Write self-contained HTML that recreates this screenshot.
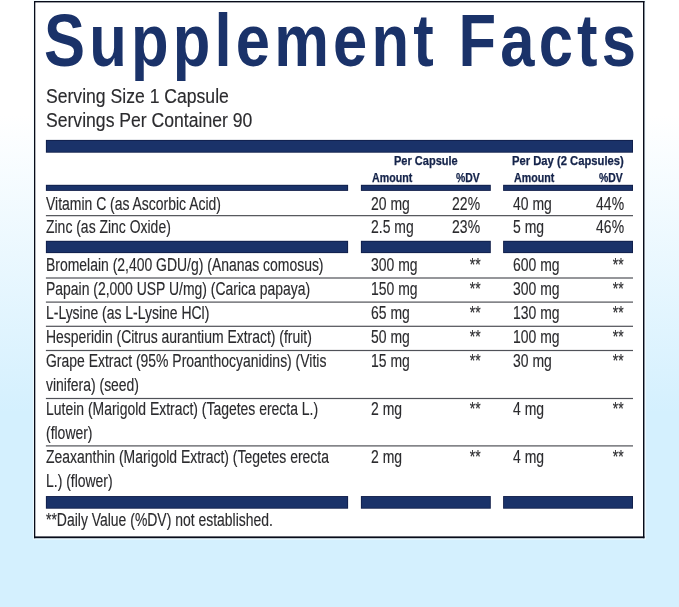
<!DOCTYPE html>
<html><head><meta charset="utf-8"><title>Supplement Facts</title>
<style>
html,body{margin:0;padding:0;}
body{width:679px;height:607px;position:relative;overflow:hidden;background:linear-gradient(to bottom,#ffffff 0%,#ffffff 19%,#d4f0fe 68%,#d4f0fe 100%);font-family:"Liberation Sans",Arial,Helvetica,sans-serif;}
span{position:absolute;white-space:nowrap;line-height:normal;color:#2b2b2e;}
span.title{font-weight:bold;color:#1a3269;}
span.h{font-weight:bold;color:#14234a;-webkit-text-stroke:0.25px #14234a;}
span.r{-webkit-text-stroke:0.15px #2b2b2e;}
svg.g{position:absolute;left:0;top:0;}
</style></head><body>
<svg class="g" width="679" height="607" viewBox="0 0 679 607">
<rect x="32.9" y="0" width="613.2" height="539.7" fill="#f2fcff" fill-opacity="0.75"/>
<rect x="34.4" y="1.4" width="609.6" height="536" fill="#ffffff"/>
<rect x="34" y="1" width="1.3" height="537.2" fill="#070b19"/>
<rect x="643" y="1" width="1.45" height="537.2" fill="#070b19"/>
<rect x="34" y="1" width="610.45" height="1.4" fill="#070b19"/>
<rect x="34" y="536.4" width="610.45" height="1.8" fill="#070b19"/>
<rect x="45.90" y="139.90" width="587.10" height="12.80" fill="#111f4a"/>
<rect x="46.80" y="140.80" width="585.30" height="11.00" fill="#1a3269"/>
<rect x="45.90" y="184.80" width="302.20" height="6.10" fill="#111f4a"/>
<rect x="46.80" y="185.70" width="300.40" height="4.30" fill="#1a3269"/>
<rect x="360.90" y="184.80" width="129.90" height="6.10" fill="#111f4a"/>
<rect x="361.80" y="185.70" width="128.10" height="4.30" fill="#1a3269"/>
<rect x="503.10" y="184.80" width="129.90" height="6.10" fill="#111f4a"/>
<rect x="504.00" y="185.70" width="128.10" height="4.30" fill="#1a3269"/>
<rect x="45.90" y="240.80" width="302.20" height="12.30" fill="#111f4a"/>
<rect x="46.80" y="241.70" width="300.40" height="10.50" fill="#1a3269"/>
<rect x="360.90" y="240.80" width="129.90" height="12.30" fill="#111f4a"/>
<rect x="361.80" y="241.70" width="128.10" height="10.50" fill="#1a3269"/>
<rect x="503.10" y="240.80" width="129.90" height="12.30" fill="#111f4a"/>
<rect x="504.00" y="241.70" width="128.10" height="10.50" fill="#1a3269"/>
<rect x="45.90" y="496.05" width="302.20" height="12.65" fill="#111f4a"/>
<rect x="46.80" y="496.95" width="300.40" height="10.85" fill="#1a3269"/>
<rect x="360.90" y="496.05" width="129.90" height="12.65" fill="#111f4a"/>
<rect x="361.80" y="496.95" width="128.10" height="10.85" fill="#1a3269"/>
<rect x="503.10" y="496.05" width="129.90" height="12.65" fill="#111f4a"/>
<rect x="504.00" y="496.95" width="128.10" height="10.85" fill="#1a3269"/>
<rect x="45.90" y="215.05" width="587.10" height="1.20" fill="#505258"/>
<rect x="45.90" y="277.40" width="587.10" height="1.20" fill="#505258"/>
<rect x="45.90" y="301.50" width="587.10" height="1.20" fill="#505258"/>
<rect x="45.90" y="325.70" width="587.10" height="1.20" fill="#505258"/>
<rect x="45.90" y="349.90" width="587.10" height="1.20" fill="#505258"/>
<rect x="45.90" y="397.90" width="587.10" height="1.20" fill="#505258"/>
<rect x="45.90" y="445.30" width="587.10" height="1.20" fill="#505258"/>
</svg>
<span class="title" style="left:43.90px;top:-3.00px;font-size:75px;transform:scaleX(0.82);transform-origin:left top;letter-spacing:5.12px;word-spacing:-0.8px;">Supplement Facts</span>
<span class="r" style="left:46.00px;top:85.00px;font-size:19.5px;transform:scaleX(0.902);transform-origin:left top;">Serving Size 1 Capsule</span>
<span class="r" style="left:46.00px;top:109.00px;font-size:19.5px;transform:scaleX(0.902);transform-origin:left top;">Servings Per Container 90</span>
<span class="h" style="left:394.00px;top:154.00px;font-size:12.2px;transform:scaleX(0.905);transform-origin:left top;">Per Capsule</span>
<span class="h" style="left:512.40px;top:154.00px;font-size:12.2px;transform:scaleX(0.922);transform-origin:left top;">Per Day (2 Capsules)</span>
<span class="h" style="left:371.75px;top:171.00px;font-size:12.2px;transform:scaleX(0.873);transform-origin:left top;">Amount</span>
<span class="h" style="right:199.00px;top:171.00px;font-size:12.2px;transform:scaleX(0.855);transform-origin:right top;">%DV</span>
<span class="h" style="left:513.50px;top:171.00px;font-size:12.2px;transform:scaleX(0.873);transform-origin:left top;">Amount</span>
<span class="h" style="right:56.50px;top:171.00px;font-size:12.2px;transform:scaleX(0.855);transform-origin:right top;">%DV</span>
<span class="r" style="left:46.25px;top:194.00px;font-size:17.5px;transform:scaleX(0.797);transform-origin:left top;">Vitamin C (as Ascorbic Acid)</span>
<span class="r" style="left:46.25px;top:217.00px;font-size:17.5px;transform:scaleX(0.797);transform-origin:left top;">Zinc (as Zinc Oxide)</span>
<span class="r" style="left:46.25px;top:255.00px;font-size:17.5px;transform:scaleX(0.797);transform-origin:left top;">Bromelain (2,400 GDU/g) (Ananas comosus)</span>
<span class="r" style="left:46.25px;top:279.00px;font-size:17.5px;transform:scaleX(0.797);transform-origin:left top;">Papain (2,000 USP U/mg) (Carica papaya)</span>
<span class="r" style="left:46.25px;top:303.00px;font-size:17.5px;transform:scaleX(0.797);transform-origin:left top;">L-Lysine (as L-Lysine HCl)</span>
<span class="r" style="left:46.25px;top:327.00px;font-size:17.5px;transform:scaleX(0.797);transform-origin:left top;">Hesperidin (Citrus aurantium Extract) (fruit)</span>
<span class="r" style="left:46.25px;top:351.00px;font-size:17.5px;transform:scaleX(0.797);transform-origin:left top;">Grape Extract (95% Proanthocyanidins) (Vitis</span>
<span class="r" style="left:46.25px;top:375.00px;font-size:17.5px;transform:scaleX(0.797);transform-origin:left top;">vinifera) (seed)</span>
<span class="r" style="left:46.25px;top:399.00px;font-size:17.5px;transform:scaleX(0.797);transform-origin:left top;">Lutein (Marigold Extract) (Tagetes erecta L.)</span>
<span class="r" style="left:46.25px;top:423.00px;font-size:17.5px;transform:scaleX(0.797);transform-origin:left top;">(flower)</span>
<span class="r" style="left:46.25px;top:447.00px;font-size:17.5px;transform:scaleX(0.797);transform-origin:left top;">Zeaxanthin (Marigold Extract) (Tegetes erecta</span>
<span class="r" style="left:46.25px;top:471.00px;font-size:17.5px;transform:scaleX(0.797);transform-origin:left top;">L.) (flower)</span>
<span class="r" style="left:371.20px;top:194.00px;font-size:17.5px;transform:scaleX(0.797);transform-origin:left top;">20 mg</span>
<span class="r" style="right:198.70px;top:194.00px;font-size:17.5px;transform:scaleX(0.797);transform-origin:right top;">22%</span>
<span class="r" style="left:512.50px;top:194.00px;font-size:17.5px;transform:scaleX(0.797);transform-origin:left top;">40 mg</span>
<span class="r" style="right:55.20px;top:194.00px;font-size:17.5px;transform:scaleX(0.797);transform-origin:right top;">44%</span>
<span class="r" style="left:371.20px;top:217.00px;font-size:17.5px;transform:scaleX(0.797);transform-origin:left top;">2.5 mg</span>
<span class="r" style="right:198.70px;top:217.00px;font-size:17.5px;transform:scaleX(0.797);transform-origin:right top;">23%</span>
<span class="r" style="left:512.50px;top:217.00px;font-size:17.5px;transform:scaleX(0.797);transform-origin:left top;">5 mg</span>
<span class="r" style="right:55.20px;top:217.00px;font-size:17.5px;transform:scaleX(0.797);transform-origin:right top;">46%</span>
<span class="r" style="left:371.20px;top:255.00px;font-size:17.5px;transform:scaleX(0.797);transform-origin:left top;">300 mg</span>
<span class="r" style="right:198.70px;top:255.00px;font-size:17.5px;transform:scaleX(0.797);transform-origin:right top;">**</span>
<span class="r" style="left:512.50px;top:255.00px;font-size:17.5px;transform:scaleX(0.797);transform-origin:left top;">600 mg</span>
<span class="r" style="right:55.20px;top:255.00px;font-size:17.5px;transform:scaleX(0.797);transform-origin:right top;">**</span>
<span class="r" style="left:371.20px;top:279.00px;font-size:17.5px;transform:scaleX(0.797);transform-origin:left top;">150 mg</span>
<span class="r" style="right:198.70px;top:279.00px;font-size:17.5px;transform:scaleX(0.797);transform-origin:right top;">**</span>
<span class="r" style="left:512.50px;top:279.00px;font-size:17.5px;transform:scaleX(0.797);transform-origin:left top;">300 mg</span>
<span class="r" style="right:55.20px;top:279.00px;font-size:17.5px;transform:scaleX(0.797);transform-origin:right top;">**</span>
<span class="r" style="left:371.20px;top:303.00px;font-size:17.5px;transform:scaleX(0.797);transform-origin:left top;">65 mg</span>
<span class="r" style="right:198.70px;top:303.00px;font-size:17.5px;transform:scaleX(0.797);transform-origin:right top;">**</span>
<span class="r" style="left:512.50px;top:303.00px;font-size:17.5px;transform:scaleX(0.797);transform-origin:left top;">130 mg</span>
<span class="r" style="right:55.20px;top:303.00px;font-size:17.5px;transform:scaleX(0.797);transform-origin:right top;">**</span>
<span class="r" style="left:371.20px;top:327.00px;font-size:17.5px;transform:scaleX(0.797);transform-origin:left top;">50 mg</span>
<span class="r" style="right:198.70px;top:327.00px;font-size:17.5px;transform:scaleX(0.797);transform-origin:right top;">**</span>
<span class="r" style="left:512.50px;top:327.00px;font-size:17.5px;transform:scaleX(0.797);transform-origin:left top;">100 mg</span>
<span class="r" style="right:55.20px;top:327.00px;font-size:17.5px;transform:scaleX(0.797);transform-origin:right top;">**</span>
<span class="r" style="left:371.20px;top:351.00px;font-size:17.5px;transform:scaleX(0.797);transform-origin:left top;">15 mg</span>
<span class="r" style="right:198.70px;top:351.00px;font-size:17.5px;transform:scaleX(0.797);transform-origin:right top;">**</span>
<span class="r" style="left:512.50px;top:351.00px;font-size:17.5px;transform:scaleX(0.797);transform-origin:left top;">30 mg</span>
<span class="r" style="right:55.20px;top:351.00px;font-size:17.5px;transform:scaleX(0.797);transform-origin:right top;">**</span>
<span class="r" style="left:371.20px;top:399.00px;font-size:17.5px;transform:scaleX(0.797);transform-origin:left top;">2 mg</span>
<span class="r" style="right:198.70px;top:399.00px;font-size:17.5px;transform:scaleX(0.797);transform-origin:right top;">**</span>
<span class="r" style="left:512.50px;top:399.00px;font-size:17.5px;transform:scaleX(0.797);transform-origin:left top;">4 mg</span>
<span class="r" style="right:55.20px;top:399.00px;font-size:17.5px;transform:scaleX(0.797);transform-origin:right top;">**</span>
<span class="r" style="left:371.20px;top:447.00px;font-size:17.5px;transform:scaleX(0.797);transform-origin:left top;">2 mg</span>
<span class="r" style="right:198.70px;top:447.00px;font-size:17.5px;transform:scaleX(0.797);transform-origin:right top;">**</span>
<span class="r" style="left:512.50px;top:447.00px;font-size:17.5px;transform:scaleX(0.797);transform-origin:left top;">4 mg</span>
<span class="r" style="right:55.20px;top:447.00px;font-size:17.5px;transform:scaleX(0.797);transform-origin:right top;">**</span>
<span class="r" style="left:46.00px;top:510.00px;font-size:17.5px;transform:scaleX(0.797);transform-origin:left top;">**Daily Value (%DV) not established.</span>
</body></html>
